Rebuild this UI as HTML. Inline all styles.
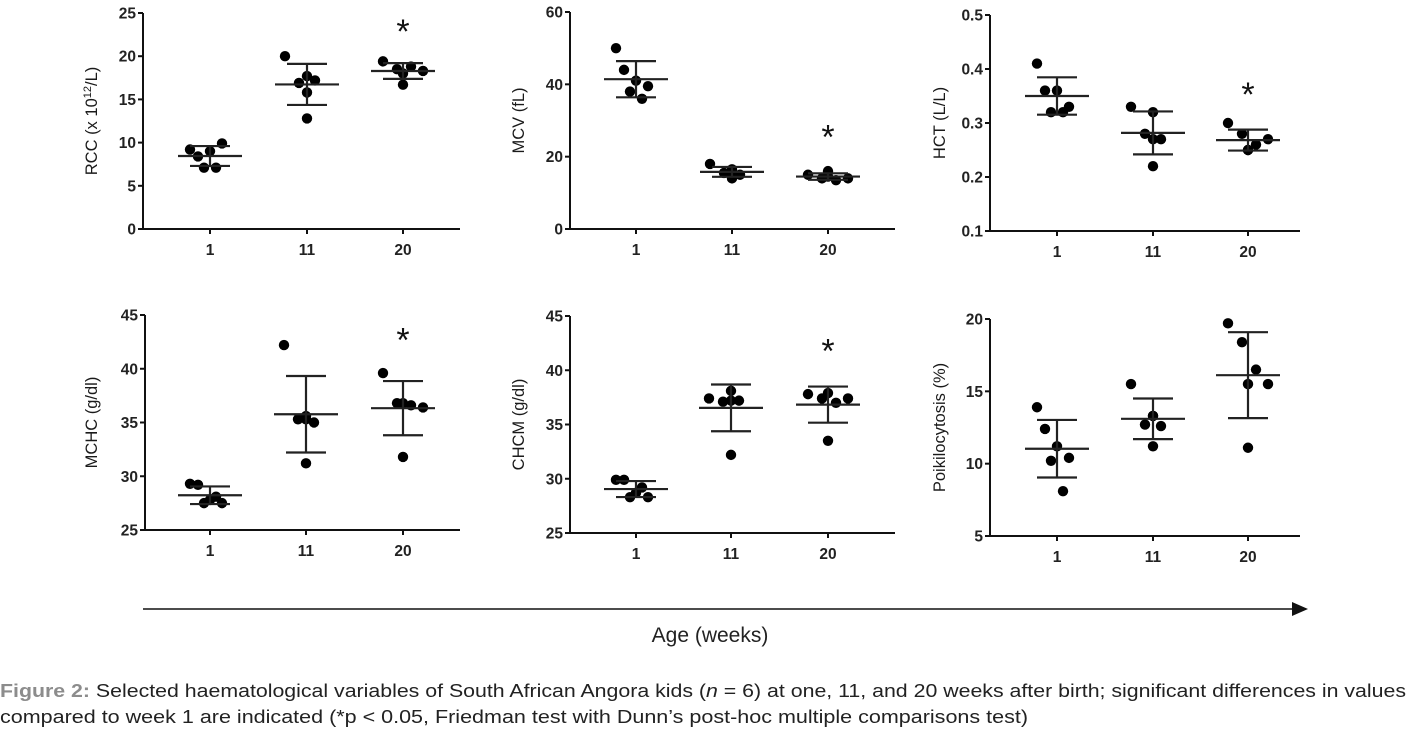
<!DOCTYPE html>
<html><head><meta charset="utf-8"><style>
body{margin:0;background:#fff;}
svg{display:block;font-family:"Liberation Sans",Arial,sans-serif;}
</style></head><body>
<svg id="fig" width="1413" height="734" viewBox="0 0 1413 734">
<defs><marker id="ah" markerWidth="16" markerHeight="14" refX="14" refY="7" orient="auto" markerUnits="userSpaceOnUse"><path d="M0,0 L16,7 L0,14 z" fill="#111"/></marker></defs>
<line x1="143" y1="609" x2="1306" y2="609" stroke="#111" stroke-width="1.5" marker-end="url(#ah)"/>
<text x="710" y="642" font-size="21" text-anchor="middle" fill="#222">Age (weeks)</text>
<text x="0" y="697" font-size="18" fill="#222" textLength="1406" lengthAdjust="spacingAndGlyphs"><tspan fill="#8c8c8c" font-weight="bold">Figure 2:</tspan> Selected haematological variables of South African Angora kids (<tspan font-style="italic">n</tspan> = 6) at one, 11, and 20 weeks after birth; significant differences in values</text>
<text x="0" y="723" font-size="18" fill="#222" textLength="1028" lengthAdjust="spacingAndGlyphs">compared to week 1 are indicated (*p &lt; 0.05, Friedman test with Dunn’s post-hoc multiple comparisons test)</text>
</svg>
<script>
const categories = ["1","11","20"];
const rccValues = [[9.2,8.4,9.0,9.9,7.1,7.1],[20.0,17.7,16.9,17.2,15.8,12.8],[19.4,18.5,18.8,18.3,18.0,16.7]];
const mcvValues = [[50,44,41,39.5,38,36],[18,16.5,15.5,15,15.8,14],[15,14,13.5,14,14.5,16]];
const hctValues = [[0.41,0.36,0.36,0.33,0.32,0.32],[0.33,0.32,0.28,0.27,0.27,0.22],[0.30,0.28,0.26,0.27,0.25,0.25]];
const mchcValues = [[29.3,29.2,27.8,27.5,27.5,28.1],[42.2,35.6,35.3,35.0,35.3,31.2],[39.6,36.8,36.6,36.4,36.8,31.8]];
const chcmValues = [[29.9,29.9,28.7,28.3,28.3,29.2],[37.4,37.2,37.1,37.2,38.1,32.2],[37.8,37.4,37.0,37.4,37.9,33.5]];
const poikValues = [[13.9,12.4,11.2,10.4,10.2,8.1],[15.5,13.3,12.7,12.6,13.3,11.2],[19.7,18.4,16.5,15.5,15.5,11.1]];
const rccTicks = [0,5,10,15,20,25];
const mcvTicks = [0,20,40,60];
const hctTicks = [0.1,0.2,0.3,0.4,0.5];
const mchcTicks = [25,30,35,40,45];
const chcmTicks = [25,30,35,40,45];
const poikTicks = [5,10,15,20];
const rccStar = [null,null,23.5];
const mcvStar = [null,null,27];
const hctStar = [null,null,0.363];
const mchcStar = [null,null,43.2];
const chcmStar = [null,null,42.3];
const poikStar = [null,null,null];

// layout (style, not data)
const jitter = [[-20,-12,0,12,-6,6],[-22,0,-8,8,0,0],[-20,-6,8,20,0,0]];
const panels = [
 {name:"rcc",vals:rccValues,ticks:rccTicks,star:rccStar,ax:143,top:13,bot:229,xend:460,cx:[210,307,403],lab:"RCC (x 10<sup>12</sup>/L)",lx:97,dec:0},
 {name:"mcv",vals:mcvValues,ticks:mcvTicks,star:mcvStar,ax:570,top:12,bot:229,xend:895,cx:[636,732,828],lab:"MCV (fL)",lx:524,dec:0},
 {name:"hct",vals:hctValues,ticks:hctTicks,star:hctStar,ax:990,top:15,bot:231,xend:1300,cx:[1057,1153,1248],lab:"HCT (L/L)",lx:945,dec:1},
 {name:"mchc",vals:mchcValues,ticks:mchcTicks,star:mchcStar,ax:145,top:315,bot:530,xend:460,cx:[210,306,403],lab:"MCHC (g/dl)",lx:97,dec:0},
 {name:"chcm",vals:chcmValues,ticks:chcmTicks,star:chcmStar,ax:570,top:316,bot:533,xend:895,cx:[636,731,828],lab:"CHCM (g/dl)",lx:524,dec:0},
 {name:"poikilocytosis",vals:poikValues,ticks:poikTicks,star:poikStar,ax:990,top:319,bot:536,xend:1300,cx:[1057,1153,1248],lab:"Poikilocytosis (%)",lx:945,dec:0}
];
const NS="http://www.w3.org/2000/svg";
const svg=document.getElementById('fig');
function mk(tag,attrs,parent){const e=document.createElementNS(NS,tag);for(const k in attrs)e.setAttribute(k,attrs[k]);(parent||svg).appendChild(e);return e;}
panels.forEach(p=>{
  const g=mk('g',{});
  
  
  const lo=p.ticks[0],hi=p.ticks[p.ticks.length-1];
  const y=v=>p.bot-(v-lo)/(hi-lo)*(p.bot-p.top);
  const ya=mk('line',{x1:p.ax,y1:p.top,x2:p.ax,y2:p.bot,stroke:"#111","stroke-width":2},g);
  
  
  const xa=mk('line',{x1:p.ax-1,y1:p.bot,x2:p.xend,y2:p.bot,stroke:"#111","stroke-width":2},g);
  
  
  p.ticks.forEach(t=>{
    mk('line',{x1:p.ax-5,y1:y(t),x2:p.ax,y2:y(t),stroke:"#111","stroke-width":2},g);
    const tl=mk('text',{x:p.ax-7,y:y(t)+5.5,"font-size":15.5,"font-weight":"bold","text-anchor":"end",fill:"#222"},g);
    tl.textContent=t.toFixed(p.dec);
    
    
  });
  const yt=mk('text',{transform:`translate(${p.lx},${(p.top+p.bot)/2}) rotate(-90)`,"font-size":16.5,"text-anchor":"middle",fill:"#1a1a1a"},g);
  yt.innerHTML=p.lab.replace('<sup>','<tspan font-size="11" dy="-6">').replace('</sup>','</tspan><tspan dy="6">')+(p.lab.includes('<sup>')?'</tspan>':'');
  
  
  categories.forEach((c,i)=>{
    const x=p.cx[i];
    mk('line',{x1:x,y1:p.bot,x2:x,y2:p.bot+5,stroke:"#111","stroke-width":2},g);
    const xl=mk('text',{x:x,y:p.bot+26,"font-size":15.5,"font-weight":"bold","text-anchor":"middle",fill:"#222"},g);
    xl.textContent=c;
    
    
    const vs=p.vals[i];
    const m=vs.reduce((a,b)=>a+b,0)/vs.length;
    const sd=Math.sqrt(vs.reduce((a,b)=>a+(b-m)*(b-m),0)/(vs.length-1));
    vs.forEach((v,j)=>{
      const d=mk('circle',{cx:x+jitter[i][j],cy:y(v),r:5.2,fill:"#000"},g);
      
      
    });
    const ml=mk('line',{x1:x-32,y1:y(m),x2:x+32,y2:y(m),stroke:"#222","stroke-width":2.2},g);
    
    
    const eb=mk('path',{d:`M${x},${y(m-sd)}V${y(m+sd)}M${x-20},${y(m+sd)}H${x+20}M${x-20},${y(m-sd)}H${x+20}`,stroke:"#222","stroke-width":2.2,fill:"none"},g);
    
    
    if(p.star[i]!==null){
      const s=mk('text',{x:x,y:y(p.star[i])+17,"font-size":34,"text-anchor":"middle",fill:"#111"},g);
      s.textContent="*";
      
      
    }
  });
});
</script>
</body></html>
